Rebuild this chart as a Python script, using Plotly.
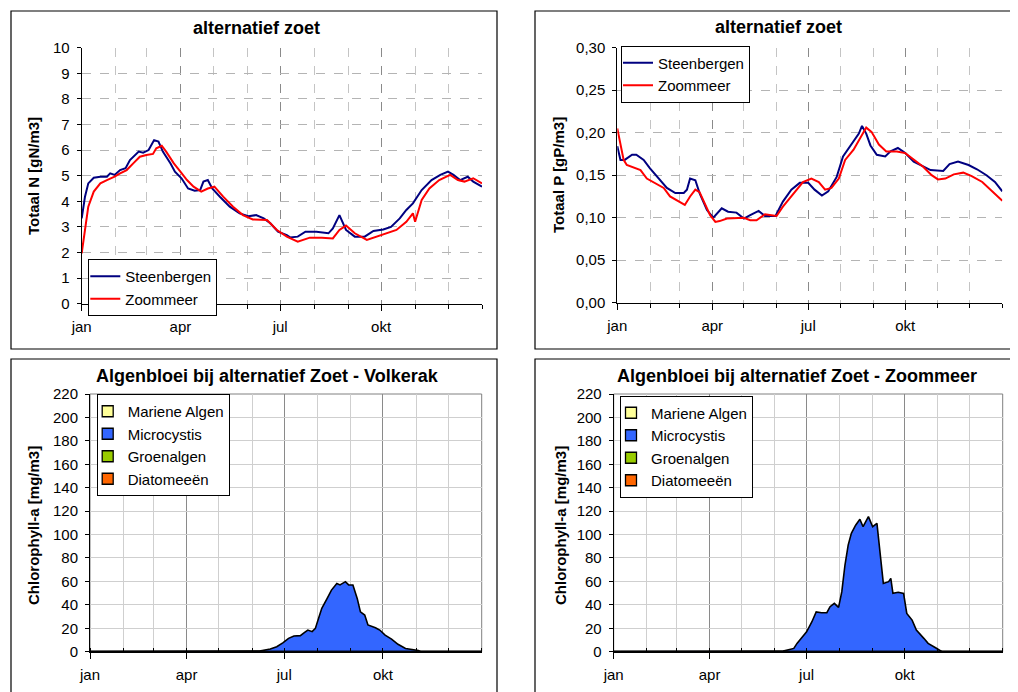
import pandas as pd
import plotly.graph_objects as go

# ---------------- data (day of year) ----------------
TN_STEEN_DAY = [0, 3, 6, 11, 17, 23, 26, 30, 35, 40, 44, 52, 56, 61, 66, 70, 74, 81, 85, 91,
                97, 103, 108, 111, 115, 119, 126, 135, 144, 152, 159, 166, 172, 179, 187, 190,
                197, 204, 214, 225, 229, 235, 241, 249, 258, 266, 275, 282, 290, 296, 302, 310,
                319, 327, 334, 339, 345, 352, 357, 365]
TN_STEEN = [3.33, 4.18, 4.70, 4.92, 4.96, 4.96, 5.09, 5.03, 5.22, 5.29, 5.61, 5.94, 5.90, 6.00,
            6.39, 6.33, 5.94, 5.48, 5.16, 4.90, 4.50, 4.41, 4.44, 4.77, 4.83, 4.50, 4.18, 3.79,
            3.53, 3.42, 3.46, 3.33, 3.14, 2.81, 2.68, 2.59, 2.62, 2.81, 2.81, 2.75, 2.94, 3.46,
            2.88, 2.62, 2.62, 2.84, 2.90, 3.00, 3.33, 3.66, 3.92, 4.44, 4.83, 5.03, 5.16, 5.03,
            4.83, 4.96, 4.77, 4.57]

TN_ZOOM_DAY = [0, 3, 6, 11, 17, 23, 30, 35, 41, 47, 53, 59, 65, 68, 73, 77, 84, 90, 96, 102,
               109, 115, 121, 129, 138, 147, 156, 169, 178, 187, 197, 208, 219, 229, 235, 241,
               249, 260, 269, 278, 287, 296, 302, 304, 310, 317, 326, 336, 343, 349, 357, 365]
TN_ZOOM = [1.97, 2.88, 3.79, 4.38, 4.70, 4.83, 4.96, 5.09, 5.22, 5.48, 5.74, 5.81, 5.85, 6.07,
           6.17, 5.94, 5.48, 5.16, 4.83, 4.57, 4.38, 4.50, 4.57, 4.18, 3.79, 3.46, 3.29, 3.27,
           2.88, 2.62, 2.42, 2.58, 2.58, 2.55, 2.88, 3.05, 2.75, 2.49, 2.62, 2.75, 2.88, 3.20,
           3.53, 3.20, 4.05, 4.50, 4.83, 5.03, 4.83, 4.77, 4.90, 4.70]

TP_STEEN_DAY = [0, 3, 7, 14, 18, 25, 31, 39, 47, 55, 63, 66, 69, 74, 78, 85, 91, 99, 105, 113,
                120, 126, 134, 140, 150, 157, 165, 173, 181, 187, 194, 200, 208, 214, 222, 229,
                232, 236, 240, 246, 254, 259, 266, 273, 281, 289, 297, 309, 315, 323, 333, 341,
                350, 358, 365]
TP_STEEN = [0.184, 0.168, 0.168, 0.174, 0.174, 0.168, 0.158, 0.146, 0.135, 0.129, 0.129, 0.133,
            0.146, 0.144, 0.129, 0.109, 0.100, 0.111, 0.107, 0.106, 0.099, 0.103, 0.108, 0.102,
            0.102, 0.119, 0.133, 0.141, 0.141, 0.133, 0.126, 0.131, 0.148, 0.172, 0.187, 0.199,
            0.208, 0.199, 0.185, 0.174, 0.172, 0.178, 0.182, 0.176, 0.166, 0.161, 0.156, 0.155,
            0.163, 0.166, 0.162, 0.157, 0.150, 0.142, 0.131]

TP_ZOOM_DAY = [0, 3, 6, 9, 15, 22, 28, 37, 44, 50, 58, 64, 69, 74, 78, 83, 88, 93, 97, 104,
               113, 120, 126, 132, 140, 148, 151, 157, 167, 176, 184, 191, 197, 203, 210, 216,
               224, 230, 236, 241, 248, 255, 265, 273, 281, 290, 298, 304, 311, 319, 328, 336,
               346, 352, 358, 365]
TP_ZOOM = [0.205, 0.188, 0.168, 0.162, 0.159, 0.156, 0.146, 0.140, 0.135, 0.125, 0.119, 0.115,
           0.125, 0.133, 0.130, 0.117, 0.103, 0.095, 0.096, 0.099, 0.100, 0.100, 0.097, 0.097,
           0.104, 0.102, 0.102, 0.113, 0.129, 0.142, 0.146, 0.142, 0.133, 0.135, 0.146, 0.168,
           0.180, 0.193, 0.206, 0.201, 0.186, 0.178, 0.178, 0.176, 0.168, 0.160, 0.150, 0.145,
           0.146, 0.151, 0.153, 0.149, 0.142, 0.135, 0.129, 0.120]

CHL_VOLK_DAY = [0, 155, 158, 168, 174, 180, 185, 190, 196, 200, 203, 207, 210, 213, 216, 221,
                225, 230, 233, 238, 241, 245, 249, 252, 256, 259, 266, 270, 275, 281, 287, 294,
                300, 306, 308, 365]
CHL_VOLK = [0, 0, 0.5, 2.3, 4.3, 7.7, 11.4, 13.4, 13.7, 16.5, 18.5, 17.1, 19.9, 28.5, 37.0, 45.5,
            52.6, 58.3, 57.0, 59.8, 57.0, 57.0, 45.5, 34.0, 31.3, 22.8, 20.5, 18.5, 14.2, 10.8,
            6.3, 2.8, 1.7, 1.1, 0, 0]

CHL_ZOOM_DAY = [0, 156, 159, 169, 172, 176, 181, 186, 190, 195, 200, 203, 207, 211, 214, 217,
                220, 223, 227, 231, 234, 239, 243, 247, 250, 253, 258, 260, 262, 267, 272, 275,
                280, 284, 291, 295, 302, 306, 308, 365]
CHL_ZOOM = [0, 0, 0.5, 2.8, 7.1, 11.4, 17.0, 25.6, 34.0, 33.3, 33.3, 38.4, 41.3, 37.8, 51.0,
            74.0, 91.0, 101.0, 108.0, 113.0, 106.7, 115.3, 106.7, 109.6, 82.5, 58.3, 59.8, 62.6,
            49.8, 50.7, 49.8, 32.7, 27.0, 18.5, 11.4, 7.1, 3.4, 1.4, 0, 0]

OTHER_DAY = [0, 365]
MARIENE_ALGEN = [0, 0]
GROENALGEN = [0, 0]
DIATOMEEEN = [0, 0]

ALGAE_NAMES = ["Mariene Algen", "Microcystis", "Groenalgen", "Diatomeeën"]
MONTH_LABELS = ["jan", "apr", "jul", "okt"]

# ---------------- styling ----------------
W, H = 1018, 692
OFF = 8  # page body margin
BASE = pd.Timestamp("2001-01-01")
END = pd.Timestamp("2002-01-01")
FONT = "Arial, 'Liberation Sans', sans-serif"
NAVY = "#000080"
RED = "#FF0000"
ALGAE_COLORS = ["#FFFF99", "#3366FF", "#99CC00", "#FF6600"]

QUARTERS = [BASE + pd.DateOffset(months=3 * i) for i in range(4)]
MONTHS = list(pd.date_range(BASE, END, freq="MS"))


def to_dates(days):
    return BASE + pd.to_timedelta(days, unit="D")


def px(xp):
    return (xp - OFF) / W


def py(yp):
    return 1 - (yp - OFF) / H


def xaxis_cfg(x0, x1, anchor, top):
    return dict(
        domain=[px(x0), px(x1)], anchor=anchor, type="date", range=[BASE, END],
        tickmode="array", tickvals=QUARTERS, ticktext=MONTH_LABELS,
        ticks="outside", ticklen=6, tickcolor="black", tickwidth=1,
        showline=True, linecolor="black", linewidth=1,
        showgrid=True, gridcolor="#8a8a8a", gridwidth=1,
        griddash="dash" if top else "solid",
        minor=dict(tickmode="array", tickvals=MONTHS,
                   ticks="outside" if top else "inside", ticklen=4,
                   tickcolor="black", showgrid=True,
                   gridcolor="#c4c4c4" if top else "#cfcfcf",
                   griddash="dash" if top else "solid"),
        tickfont=dict(size=15, color="black", family=FONT),
        ticklabelstandoff=3, zeroline=False, fixedrange=True, automargin=False,
    )


def yaxis_cfg(y0, y1, anchor, rng, dtick, fmt, top):
    return dict(
        domain=[py(y1), py(y0)], anchor=anchor, range=rng, dtick=dtick, tick0=0,
        tickformat=fmt, ticks="outside", ticklen=4, tickcolor="black",
        showline=True, linecolor="black", linewidth=1,
        showgrid=True, gridcolor="#b4b4b4" if top else "#cfcfcf", gridwidth=1,
        griddash="dash" if top else "solid",
        tickfont=dict(size=15, color="black", family=FONT),
        ticklabelstandoff=4, zeroline=False, fixedrange=True, automargin=False,
    )


fig = go.Figure()

# Top-left: Totaal N
fig.add_trace(go.Scatter(x=to_dates(TN_STEEN_DAY), y=TN_STEEN, name="Steenbergen", mode="lines",
                         line=dict(color=NAVY, width=2), xaxis="x", yaxis="y", legend="legend"))
fig.add_trace(go.Scatter(x=to_dates(TN_ZOOM_DAY), y=TN_ZOOM, name="Zoommeer", mode="lines",
                         line=dict(color=RED, width=2), xaxis="x", yaxis="y", legend="legend"))
# Top-right: Totaal P
fig.add_trace(go.Scatter(x=to_dates(TP_STEEN_DAY), y=TP_STEEN, name="Steenbergen", mode="lines",
                         line=dict(color=NAVY, width=2), xaxis="x2", yaxis="y2", legend="legend2"))
fig.add_trace(go.Scatter(x=to_dates(TP_ZOOM_DAY), y=TP_ZOOM, name="Zoommeer", mode="lines",
                         line=dict(color=RED, width=2), xaxis="x2", yaxis="y2", legend="legend2"))

# Bottom: algae blooms
for xa, ya, lg, days, vals in [("x3", "y3", "legend3", CHL_VOLK_DAY, CHL_VOLK),
                               ("x4", "y4", "legend4", CHL_ZOOM_DAY, CHL_ZOOM)]:
    fig.add_trace(go.Scatter(x=to_dates(OTHER_DAY), y=MARIENE_ALGEN, mode="lines",
                             line=dict(color="black", width=2), fill="tozeroy",
                             fillcolor=ALGAE_COLORS[0], showlegend=False, xaxis=xa, yaxis=ya))
    fig.add_trace(go.Scatter(x=to_dates(days), y=vals, mode="lines",
                             line=dict(color="black", width=1.6), fill="tozeroy",
                             fillcolor=ALGAE_COLORS[1], showlegend=False, xaxis=xa, yaxis=ya))
    fig.add_trace(go.Scatter(x=to_dates(OTHER_DAY), y=GROENALGEN, mode="lines",
                             line=dict(color="black", width=2), showlegend=False, xaxis=xa, yaxis=ya))
    fig.add_trace(go.Scatter(x=to_dates(OTHER_DAY), y=DIATOMEEEN, mode="lines",
                             line=dict(color="black", width=2), showlegend=False, xaxis=xa, yaxis=ya))
    for name, col in zip(ALGAE_NAMES, ALGAE_COLORS):
        fig.add_trace(go.Scatter(x=[None], y=[None], mode="markers", name=name,
                                 marker=dict(symbol="square", size=11, color=col,
                                             line=dict(color="black", width=1.3)),
                                 xaxis=xa, yaxis=ya, legend=lg))

# panel frames
shapes = []
for x0, y0, x1, y1 in [(11, 11, 497, 349), (535, 11, 1017, 349),
                       (11, 359, 497, 720), (535, 359, 1030, 720)]:
    shapes.append(dict(type="rect", xref="paper", yref="paper", x0=px(x0), x1=px(x1),
                       y0=py(y1), y1=py(y0), line=dict(color="black", width=1.2),
                       fillcolor="rgba(0,0,0,0)", layer="below"))
for xa, ya in [("x3", "y3"), ("x4", "y4")]:
    shapes.append(dict(type="rect", xref=f"{xa} domain", yref=f"{ya} domain", x0=0, x1=1,
                       y0=0, y1=1, line=dict(color="#808080", width=1), layer="below"))

annotations = []
for text, x, y in [("alternatief zoet", 256, 28), ("alternatief zoet", 778, 27),
                   ("Algenbloei bij alternatief Zoet - Volkerak", 267, 376),
                   ("Algenbloei bij alternatief Zoet - Zoommeer", 797, 376)]:
    annotations.append(dict(text=f"<b>{text}</b>", x=px(x), y=py(y), xref="paper", yref="paper",
                            xanchor="center", yanchor="middle", showarrow=False,
                            font=dict(size=18, color="black", family=FONT)))
for text, x, y in [("Totaal N [gN/m3]", 33, 176), ("Totaal P [gP/m3]", 558, 175),
                   ("Chlorophyll-a [mg/m3]", 33, 526), ("Chlorophyll-a [mg/m3]", 560, 526)]:
    annotations.append(dict(text=f"<b>{text}</b>", x=px(x), y=py(y), xref="paper", yref="paper",
                            xanchor="center", yanchor="middle", showarrow=False, textangle=-90,
                            font=dict(size=15, color="black", family=FONT)))


def legend_cfg(x, y, indent):
    return dict(x=px(x), y=py(y), xanchor="left", yanchor="top", bgcolor="white",
                bordercolor="black", borderwidth=1, itemwidth=30, tracegroupgap=0,
                indentation=indent,
                font=dict(size=15, color="black", family=FONT))


fig.update_layout(
    template="none",
    width=W, height=H, margin=dict(l=0, r=0, t=0, b=0, pad=0, autoexpand=False),
    paper_bgcolor="white", plot_bgcolor="white", separators=",.",
    font=dict(family=FONT, color="black", size=15),
    xaxis=xaxis_cfg(81.7, 482, "y", True),
    yaxis=yaxis_cfg(47.7, 303.7, "x", [0, 10], 1, "d", True),
    xaxis2=xaxis_cfg(617.3, 1002.3, "y2", True),
    yaxis2=yaxis_cfg(47.7, 302.7, "x2", [0, 0.30], 0.05, ".2f", True),
    xaxis3=xaxis_cfg(90, 481.7, "y3", False),
    yaxis3=yaxis_cfg(394, 651.7, "x3", [0, 220], 20, "d", False),
    xaxis4=xaxis_cfg(613.7, 1002.7, "y4", False),
    yaxis4=yaxis_cfg(394, 651.7, "x4", [0, 220], 20, "d", False),
    legend=legend_cfg(88.3, 259, -4),
    legend2=legend_cfg(621, 45.5, -4),
    legend3=legend_cfg(96.7, 394, -10),
    legend4=legend_cfg(620, 395.5, -10),
    shapes=shapes, annotations=annotations,
)

fig.write_html("out.html")
